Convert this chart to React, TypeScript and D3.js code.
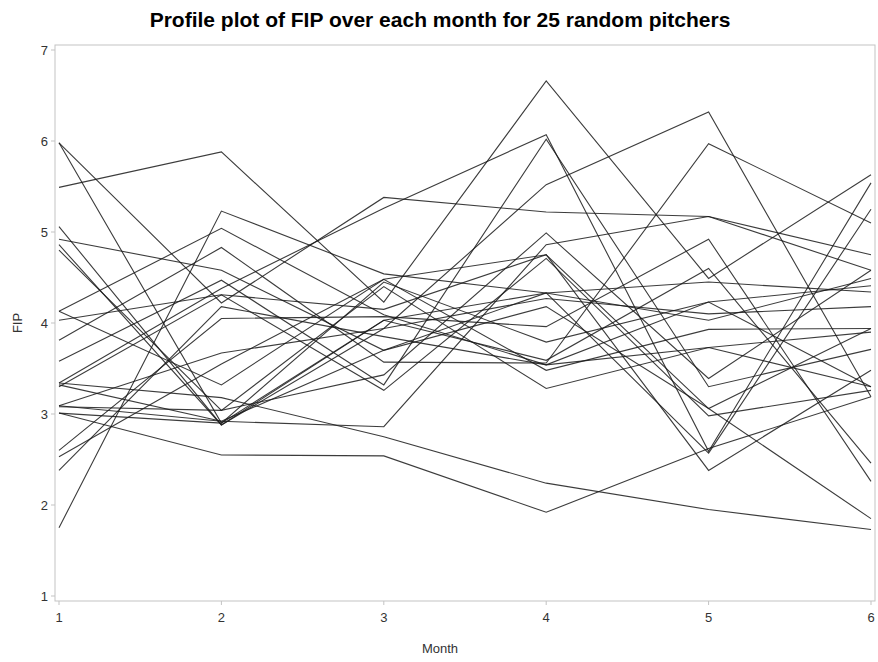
import React from "react";
import * as d3 from "d3";

const months = [1, 2, 3, 4, 5, 6];
const yTicks = [1, 2, 3, 4, 5, 6, 7];

const p01 = [5.49, 5.88, 4.23, 6.66, 4.49, 5.63];
const p02 = [5.98, 4.22, 5.38, 5.22, 5.17, 4.75];
const p03 = [5.98, 2.9, 4.45, 3.79, 4.23, 4.41];
const p04 = [1.75, 5.23, 4.54, 4.33, 4.03, 4.49];
const p05 = [3.01, 2.55, 2.54, 1.92, 2.62, 3.19];
const p06 = [3.34, 3.18, 2.75, 2.24, 1.95, 1.73];
const p07 = [4.13, 5.04, 4.09, 3.54, 3.73, 3.9];
const p08 = [5.06, 2.88, 3.94, 5.52, 6.32, 3.19];
const p09 = [4.92, 4.58, 3.7, 4.18, 3.06, 1.85];
const p10 = [4.86, 2.88, 4.03, 3.59, 4.6, 2.46];
const p11 = [4.8, 3.04, 3.43, 4.99, 3.39, 4.58];
const p12 = [4.13, 3.32, 4.48, 3.48, 3.93, 3.94];
const p13 = [4.03, 4.31, 4.15, 4.75, 2.38, 3.48];
const p14 = [3.81, 4.83, 3.57, 3.56, 5.97, 5.1];
const p15 = [3.58, 4.47, 3.32, 6.02, 3.3, 3.71];
const p16 = [3.34, 4.38, 5.26, 6.07, 2.59, 5.54];
const p17 = [3.32, 2.92, 2.86, 4.86, 5.17, 4.58];
const p18 = [3.3, 4.31, 3.26, 4.71, 2.98, 3.26];
const p19 = [3.09, 3.67, 3.94, 4.27, 4.1, 4.18];
const p20 = [3.08, 3.04, 4.4, 3.28, 3.73, 3.3];
const p21 = [3.01, 2.9, 4.03, 4.33, 4.45, 4.34];
const p22 = [2.6, 4.05, 4.07, 3.96, 4.92, 2.26];
const p23 = [2.53, 3.55, 4.48, 4.75, 3.06, 3.94];
const p24 = [2.38, 4.18, 3.85, 3.54, 4.23, 3.3];
const p25 = [3.09, 2.92, 3.7, 4.33, 2.57, 5.25];

const pitchers = [
  p01, p02, p03, p04, p05, p06, p07, p08, p09, p10, p11, p12, p13,
  p14, p15, p16, p17, p18, p19, p20, p21, p22, p23, p24, p25,
];

const W = 878;
const H = 662;
const frame = { left: 55, right: 875, top: 45, bottom: 601 };

export default function App() {
  const x = d3.scaleLinear().domain([1, 6]).range([59, 871]);
  const y = d3.scaleLinear().domain([1, 7]).range([596, 50]);
  const line = d3
    .line<number>()
    .x((_, i) => x(months[i]))
    .y((d) => y(d));

  const font = "'Liberation Sans', Arial, sans-serif";
  const axisColor = "#c3c3c3";
  const textColor = "#333";

  return (
    <div style={{ position: "absolute", left: 0, top: 0 }}>
      <svg width={W} height={H} style={{ display: "block", background: "#fff" }}>
        <text
          x={440}
          y={27}
          textAnchor="middle"
          fontFamily={font}
          fontWeight="bold"
          fontSize={21}
          fill="#000"
        >
          Profile plot of FIP over each month for 25 random pitchers
        </text>
        <rect
          x={frame.left}
          y={frame.top}
          width={frame.right - frame.left}
          height={frame.bottom - frame.top}
          fill="none"
          stroke={axisColor}
          strokeWidth={1}
        />
        <g>
          {yTicks.map((t) => (
            <g key={"y" + t}>
              <line
                x1={frame.left - 4}
                x2={frame.left}
                y1={y(t)}
                y2={y(t)}
                stroke={axisColor}
              />
              <text
                x={frame.left - 7}
                y={y(t) + 4.5}
                textAnchor="end"
                fontFamily={font}
                fontSize={13}
                fill={textColor}
              >
                {t}
              </text>
            </g>
          ))}
          {months.map((m) => (
            <g key={"x" + m}>
              <line
                x1={x(m)}
                x2={x(m)}
                y1={frame.bottom}
                y2={frame.bottom + 4}
                stroke={axisColor}
              />
              <text
                x={x(m)}
                y={frame.bottom + 21}
                textAnchor="middle"
                fontFamily={font}
                fontSize={13}
                fill={textColor}
              >
                {m}
              </text>
            </g>
          ))}
        </g>
        <text
          x={440}
          y={653}
          textAnchor="middle"
          fontFamily={font}
          fontSize={13}
          fill={textColor}
        >
          Month
        </text>
        <text
          transform={`translate(22,${(frame.top + frame.bottom) / 2}) rotate(-90)`}
          textAnchor="middle"
          fontFamily={font}
          fontSize={13}
          fill={textColor}
        >
          FIP
        </text>
        <g>
          {pitchers.map((p, i) => (
            <path
              key={i}
              d={line(p) || ""}
              fill="none"
              stroke="#1a1a1a"
              strokeOpacity={0.85}
              strokeWidth={1.1}
            />
          ))}
        </g>
      </svg>
    </div>
  );
}
